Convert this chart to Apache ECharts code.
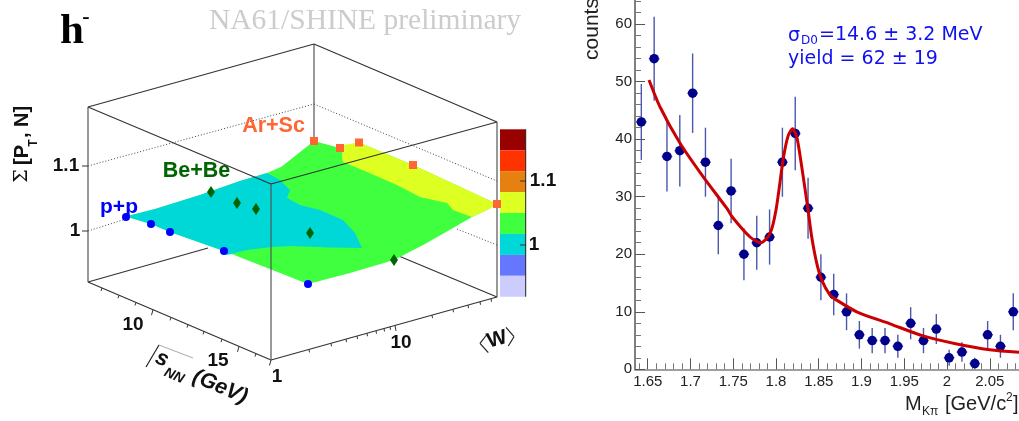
<!DOCTYPE html>
<html><head><meta charset="utf-8">
<style>html,body{margin:0;padding:0;background:#fff}#c{width:1019px;height:421px}</style>
<script src="https://cdn.jsdelivr.net/npm/echarts@6/dist/echarts.min.js"></script>
</head><body><div id="c"></div>
<script>
/* ---- right panel: D0 invariant-mass histogram ---- */
const massBins=[1.6425,1.6575,1.6725,1.6875,1.7025,1.7175,1.7325,1.7475,1.7625,1.7775,1.7925,1.8075,1.8225,1.8375,1.8525,1.8675,1.8825,1.8975,1.9125,1.9275,1.9425,1.9575,1.9725,1.9875,2.0025,2.0175,2.0325,2.0475,2.0625,2.0775];
const counts=[43,54,37,38,48,36,25,31,20,22,23,36,41,28,16,13,10,6,5,5,4,8,5,7,2,3,1,6,4,10];
const countErrors=[6.6,7.3,6.1,6.2,6.9,6.0,5.0,5.6,4.5,4.7,4.8,6.0,6.4,5.3,4.0,3.6,3.2,2.4,2.2,2.2,2.0,2.8,2.2,2.6,1.4,1.7,1.0,2.4,2.0,3.2];
const massHalfWidth=0.0062;
const fitMass=[1.6515,1.6644,1.6878,1.7147,1.7424,1.7498,1.7697,1.7822,1.793,1.8,1.8084,1.814,1.8194,1.8243,1.8301,1.8375,1.8418,1.8477,1.8535,1.8632,1.8691,1.8944,1.9334,1.972,2.0114,2.05,2.0842];
const fitCounts=[50.3,45.6,39.3,33.5,28,26.3,23,22,23.6,27.7,36.5,40.5,41.8,40.4,35.2,27.7,23,18.4,15.5,12.9,12.2,10,7.9,5.8,4.4,3.4,2.95];
const massTicks=[1.65,1.7,1.75,1.8,1.85,1.9,1.95,2,2.05];
const massMinorTicks=[1.64,1.66,1.67,1.68,1.69,1.71,1.72,1.73,1.74,1.76,1.77,1.78,1.79,1.81,1.82,1.83,1.84,1.86,1.87,1.88,1.89,1.91,1.92,1.93,1.94,1.96,1.97,1.98,1.99,2.01,2.02,2.03,2.04,2.06,2.07,2.08];
const countTicks=[0,10,20,30,40,50,60];
const countMinorTicks=[2,4,6,8,12,14,16,18,22,24,26,28,32,34,36,38,42,44,46,48,52,54,56,58,62,64];

/* ---- left panel: pseudo-3D surface ---- */
const surfaceOutline=[[126,216.5],[155,209],[200,195],[240,181],[267,173],[281,167],[290,160],[314,141],[340,148],[359,142.5],[413,165],[497,204],[487,210],[472,217],[453,228],[425,244],[394,260],[350,273],[308,284],[224,251],[170,232],[151,224]];
const cyanRegion=[[126,216.5],[155,209],[200,195],[240,181],[267,173],[280,180],[290,190],[287,198],[300,205],[320,210],[343,220],[355,233],[362,248],[330,247.5],[293,246],[272,247],[247,250],[227,255],[224,251],[170,232],[151,224]];
const yellowRegion=[[343,145],[359,142.5],[413,165],[497,204],[487,210],[472,217],[453,210],[447,203],[420,197],[397,185],[367,172],[343,162],[342,157]];
const ppPoints=[[126,217],[151,224],[170,232],[224,251],[308,284]];
const bePoints=[[211,192],[237,203],[256,209],[310,233],[394,260]];
const arPoints=[[314,141],[340,148],[359,142.5],[413,165],[497,204]];
const boxEdges=[[[88,107],[314,44]],[[314,44],[497,122]],[[88,107],[271,184]],[[271,184],[497,122]],[[88,282],[271,360]],[[271,360],[497,297]],[[88,282],[208,248]],[[400,256.5],[497,297]]];
const boxVerticals=[[[88,107],[88,282]],[[271,184],[271,360]],[[497,122],[497,297]],[[314,44],[314,143]]];
const dottedGrid=[[[88,166],[314,104]],[[314,104],[497,181]],[[88,231],[126,219]],[[457,229],[497,245]]];
const sTicks=[102,119,136,171,188,204,222,256];
const sMajorTicks=[153,239,271];
const wTicks=[309,331,346,357,367,376,384,390,432,453,468,480,491];
const wMajorTicks=[395];
const paletteColors=['#990000','#ff3300','#e68010','#ddff22','#3fff3f','#00d8d8','#6677ff','#ccccff'];
const paletteTop=129.3, paletteBand=20.93;

const SANS='"Liberation Sans"', SERIF='"Liberation Serif"', DJ='"DejaVu Sans"';
function txt(t,x,y,font,fill,opt){opt=opt||{};return {type:'text',x:x,y:y,rotation:(opt.rot||0)*Math.PI/180,z:50,silent:true,
  style:{text:t,font:font,fill:fill,align:opt.align||'center',verticalAlign:'middle'}};}

const polys=[[surfaceOutline,'#3fff3f'],[cyanRegion,'#00d8d8'],[yellowRegion,'#ddff22']];
function polySeries(pts,col,z){return {type:'custom',xAxisIndex:0,yAxisIndex:0,z:z,silent:true,clip:false,data:[[0,0]],
  renderItem:(p,api)=>({type:'polygon',shape:{points:pts.map(q=>api.coord(q))},style:{fill:col}})};}
function segSeries(segs,style,z){return {type:'custom',xAxisIndex:0,yAxisIndex:0,z:z,silent:true,clip:false,data:segs.map((s,i)=>[i,0]),
  renderItem:(p,api)=>{const s=segs[api.value(0)],a=api.coord(s[0]),b=api.coord(s[1]);
    return {type:'line',shape:{x1:a[0],y1:a[1],x2:b[0],y2:b[1]},style:Object.assign({fill:null},style)};}};}

const sTickSegs=[], wTickSegs=[];
const sy=x=>282+(x-88)*78/183, wy=x=>360-(x-271)*63/226;
sTicks.forEach(x=>sTickSegs.push([[x,sy(x)],[x-1,sy(x)+3]]));
sMajorTicks.forEach(x=>sTickSegs.push([[x,sy(x)],[x-1.5,sy(x)+5.5]]));
wTicks.forEach(x=>wTickSegs.push([[x,wy(x)],[x+.5,wy(x)+3]]));
wMajorTicks.forEach(x=>wTickSegs.push([[x,wy(x)],[x+1,wy(x)+5.5]]));
const sideTicks=[[[82,166],[88,166]],[[82,231],[88,231]],[[520,181],[526,181]],[[520,245],[526,245]]];
const sqrtSign=[[[146,367],[159,345]]], sqrtBar=[[[159,345],[193,358]]];
const wBrackets=[[[487.3,334],[480,343.3]],[[480,343.3],[488.3,352.7]],[[506,327.3],[514,336.7]],[[514,336.7],[508.3,346]]];

const series=[];
polys.forEach(p=>series.push(polySeries(p[0],p[1],2)));
paletteColors.forEach((c,i)=>series.push(polySeries([[500,paletteTop+i*paletteBand],[525.7,paletteTop+i*paletteBand],[525.7,paletteTop+(i+1)*paletteBand],[500,paletteTop+(i+1)*paletteBand]],c,2)));
series.push(segSeries(dottedGrid,{stroke:'#444',lineWidth:1,lineDash:[1,2]},1));
series.push(segSeries(boxEdges.slice(0,4),{stroke:'#333',lineWidth:1.2},5));
series.push(segSeries(boxEdges.slice(4),{stroke:'#333',lineWidth:1.2},1));
series.push(segSeries(boxVerticals.slice(0,3),{stroke:'#555',lineWidth:1.2},5));
series.push(segSeries(boxVerticals.slice(3),{stroke:'#555',lineWidth:1.2},1));
series.push(segSeries(sTickSegs.concat(wTickSegs,sideTicks),{stroke:'#333',lineWidth:1},5));
series.push(segSeries([[[525.7,129.3],[525.7,296.7]]],{stroke:'#222',lineWidth:1},5));
series.push(segSeries(sqrtSign.concat(wBrackets),{stroke:'#222',lineWidth:1.2},5));
series.push(segSeries(sqrtBar,{stroke:'#aaa',lineWidth:1},5));
series.push({type:'scatter',name:'p+p',xAxisIndex:0,yAxisIndex:0,z:8,symbol:'circle',symbolSize:8,itemStyle:{color:'#0000ff',opacity:1},data:ppPoints,clip:false});
series.push({type:'scatter',name:'Be+Be',xAxisIndex:0,yAxisIndex:0,z:8,symbol:'diamond',symbolSize:[8,12],itemStyle:{color:'#006400',opacity:1},data:bePoints,clip:false});
series.push({type:'scatter',name:'Ar+Sc',xAxisIndex:0,yAxisIndex:0,z:8,symbol:'rect',symbolSize:8,itemStyle:{color:'#ff6633',opacity:1},data:arPoints,clip:false});

/* right panel */
series.push({type:'custom',xAxisIndex:1,yAxisIndex:1,z:3,silent:true,clip:false,
  data:massBins.map((m,i)=>[m,counts[i],countErrors[i]]),
  renderItem:(p,api)=>{const m=api.value(0),c=api.value(1),e=api.value(2);
    const a=api.coord([m,c-e]),b=api.coord([m,c+e]),l=api.coord([m-massHalfWidth,c]),r=api.coord([m+massHalfWidth,c]);
    const st={stroke:'#4a57ad',lineWidth:1.4,fill:null};
    return {type:'group',children:[{type:'line',shape:{x1:a[0],y1:a[1],x2:b[0],y2:b[1]},style:st},
      {type:'line',shape:{x1:l[0],y1:l[1],x2:r[0],y2:r[1]},style:st}]};}});
series.push({type:'scatter',name:'counts',xAxisIndex:1,yAxisIndex:1,z:4,symbol:'circle',symbolSize:9.5,itemStyle:{color:'#00008b',opacity:1},data:massBins.map((m,i)=>[m,counts[i]])});
series.push({type:'line',name:'fit',xAxisIndex:1,yAxisIndex:1,z:6,symbol:'none',smooth:0.25,lineStyle:{color:'#cc0000',width:3},data:fitMass.map((m,i)=>[m,fitCounts[i]])});

const lab={fontFamily:SANS,fontSize:15,color:'#222'};
const option={animation:false,backgroundColor:'#fff',
 grid:[{left:0,top:0,width:1019,height:421,containLabel:false},{left:635,top:0,width:384,height:369.3}],
 xAxis:[
  {gridIndex:0,type:'value',min:0,max:1019,show:false},
  {gridIndex:1,type:'value',position:'bottom',min:1.6351,max:2.0842,splitLine:{show:false},
   axisLine:{lineStyle:{color:'#808080',width:1.6}},
   axisTick:{inside:true,length:11,customValues:massTicks,lineStyle:{color:'#555',width:1}},
   axisLabel:Object.assign({customValues:massTicks,margin:5,hideOverlap:false,formatter:v=>String(+v.toFixed(2))},lab)},
  {gridIndex:1,type:'value',position:'bottom',min:1.6351,max:2.0842,splitLine:{show:false},axisLine:{show:false},axisLabel:{show:false},
   axisTick:{inside:true,length:6,customValues:massMinorTicks,lineStyle:{color:'#777',width:1}}}
 ],
 yAxis:[
  {gridIndex:0,type:'value',min:0,max:421,inverse:true,show:false},
  {gridIndex:1,type:'value',position:'left',min:0,max:64.2,splitLine:{show:false},
   axisLine:{lineStyle:{color:'#808080',width:2}},
   axisTick:{inside:true,length:10,customValues:countTicks,lineStyle:{color:'#555',width:1}},
   axisLabel:Object.assign({customValues:countTicks,margin:3},lab)},
  {gridIndex:1,type:'value',position:'left',min:0,max:64.2,splitLine:{show:false},axisLine:{show:false},axisLabel:{show:false},
   axisTick:{inside:true,length:6,customValues:countMinorTicks,lineStyle:{color:'#777',width:1}}}
 ],
 series:series,
 graphic:[
  txt('h',72,32,'bold 43px '+SERIF,'#000'),
  txt('-',86,17,'bold 22px '+SERIF,'#000'),
  txt('NA61/SHINE preliminary',365,21,'29.5px '+SERIF,'#cccccc'),
  txt('Ar+Sc',273.5,126,'bold 21.5px '+SANS,'#ff6633'),
  txt('Be+Be',196.5,171,'bold 21.5px '+SANS,'#006400'),
  txt('p+p',119,207,'bold 21px '+SANS,'#0000ff'),
  txt('Σ',22,176,'19px "DejaVu Serif"','#111',{rot:90}),
  txt('[P',22,155,'bold 20px '+SANS,'#111',{rot:90}),
  txt('T',34,143,'bold 12px '+SANS,'#111',{rot:90}),
  txt(', N]',22,122,'bold 20px '+SANS,'#111',{rot:90}),
  txt('1.1',66,166,'bold 19px '+SANS,'#111'),
  txt('1',75,231,'bold 19px '+SANS,'#111'),
  txt('10',133,325,'bold 19px '+SANS,'#111'),
  txt('15',218,361,'bold 19px '+SANS,'#111'),
  txt('1',277,377,'bold 19px '+SANS,'#111'),
  txt('10',401,343,'bold 19px '+SANS,'#111'),
  txt('W',497,339.5,'bold 21px '+SANS,'#111',{rot:15}),
  txt('s',162,359,'italic bold 22px '+SANS,'#111',{rot:-23}),
  txt('NN',174,376,'italic bold 14px '+SANS,'#111',{rot:-23}),
  txt('(GeV)',220,387,'italic bold 21.5px '+SANS,'#111',{rot:-23}),
  txt('1.1',543,181,'bold 19px '+SANS,'#111'),
  txt('1',534,245,'bold 19px '+SANS,'#111'),
  txt('counts',592,29,'21px '+SANS,'#222',{rot:90}),
  txt('σ',788,36,'19px '+DJ,'#1111ee',{align:'left'}),
  txt('D0',801,41,'12px '+DJ,'#1111ee',{align:'left'}),
  txt('=14.6 ± 3.2 MeV',819,35,'19px '+DJ,'#1111ee',{align:'left'}),
  txt('yield = 62 ± 19',788,59,'19px '+DJ,'#1111ee',{align:'left'}),
  txt('M',905,404,'20px '+SANS,'#222',{align:'left'}),
  txt('Kπ',922,412,'12px '+SANS,'#222',{align:'left'}),
  txt('[GeV/c',945,404,'20px '+SANS,'#222',{align:'left'}),
  txt('2',1006,398,'12px '+SANS,'#222',{align:'left'}),
  txt(']',1013,404,'20px '+SANS,'#222',{align:'left'})
 ]};
const chart=echarts.init(document.getElementById('c'),null,{renderer:'canvas'});
chart.setOption(option);
</script></body></html>
